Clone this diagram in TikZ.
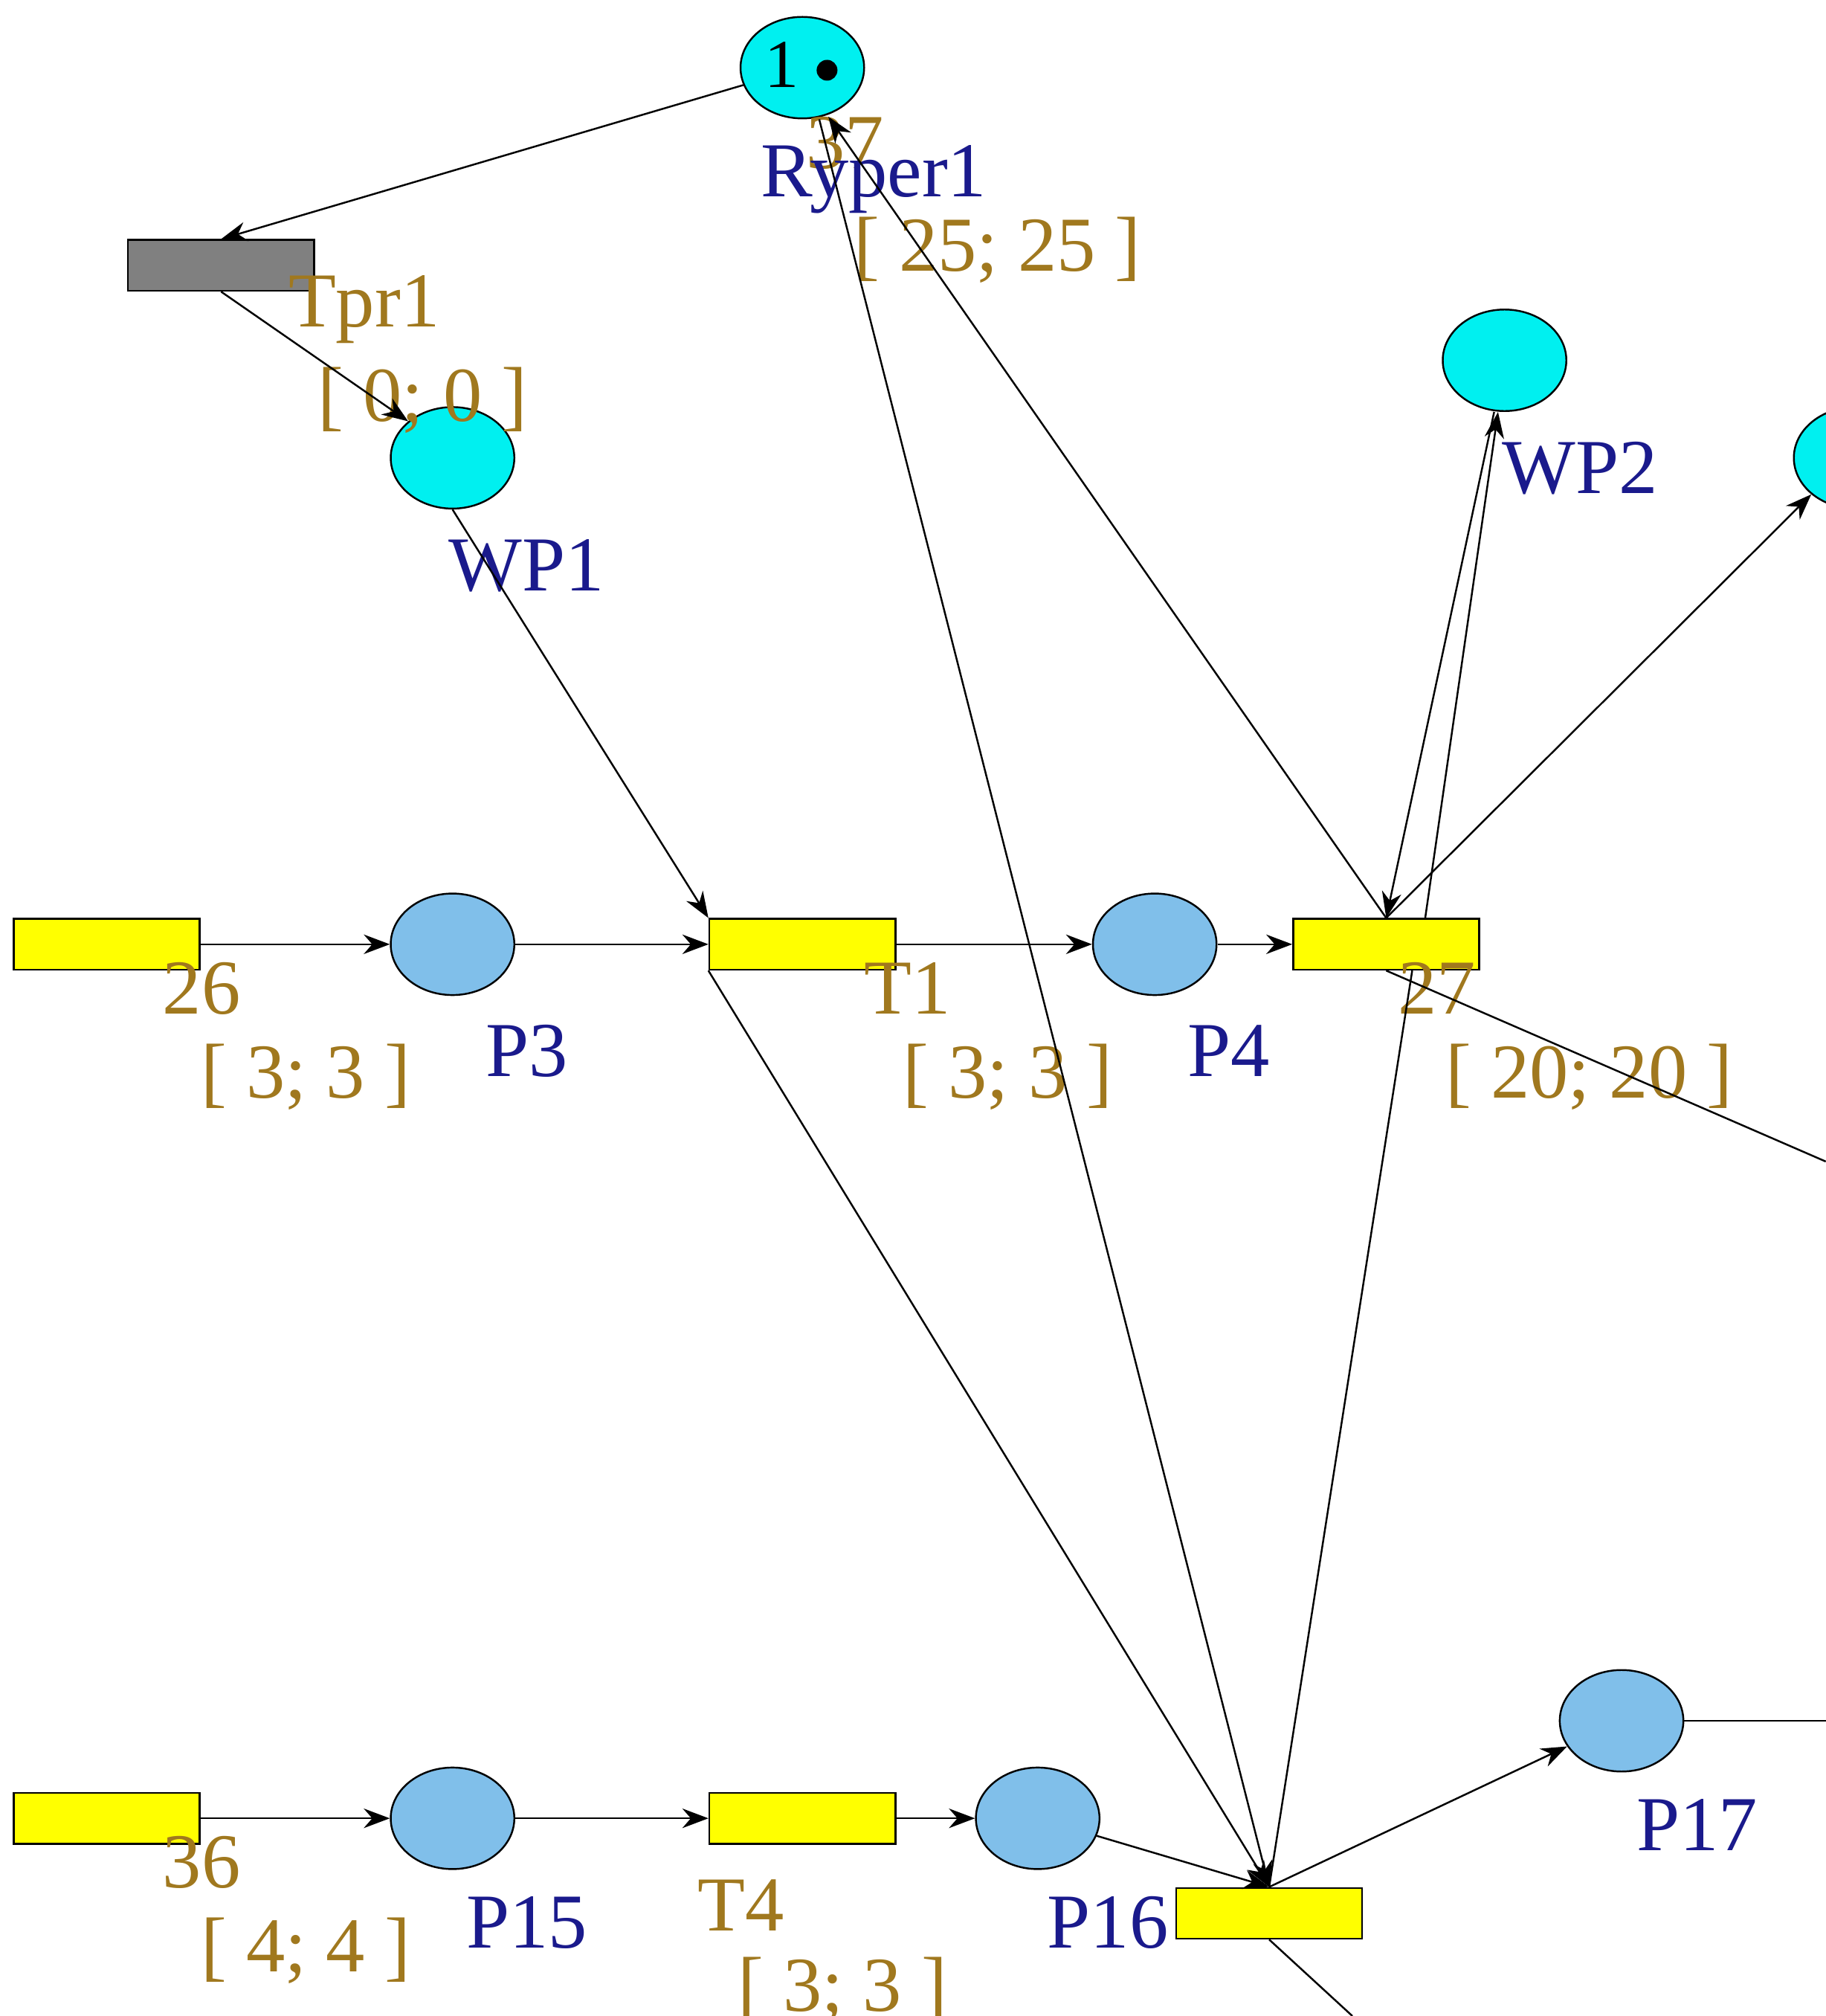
\documentclass[tikz,border=0pt]{standalone}
\usepackage{fontspec}
\setmainfont{Liberation Serif}
\usetikzlibrary{positioning, calc, arrows.meta, shapes}
\definecolor{aqua}{HTML}{00F0F0}
\definecolor{skyplace}{HTML}{80BFEA}
\definecolor{trans}{HTML}{FFFF00}
\definecolor{brownlbl}{HTML}{A0781E}
\definecolor{bluelbl}{HTML}{1A1A8C}

\begin{document}
\begin{tikzpicture}[x=0.01cm, y=-0.01cm]

\tikzset{
place/.style = {ellipse, draw, fill = skyplace, minimum width = 0.95cm,
	minimum height = 0.78cm, inner sep = 0pt},
resource/.style = {place, fill = aqua},
transition/.style = {rectangle, draw, fill = trans, minimum width = 1.43cm,
	minimum height = 0.39cm, inner sep = 0pt},
timing/.style = {text = brownlbl, font = \fontsize{17}{19}\selectfont},
pname/.style = {text = bluelbl, font = \fontsize{17}{19}\selectfont},
arc/.style = {-{Stealth[length = 2mm, width = 1.5mm]}, line width = 0.4pt},
}

\useasboundingbox (0,0) rectangle (1404,1550);

%% Places
\node at (617,52) [resource] (Ryper1) {};
\node at (348,352) [resource] (WP1) {};
\node at (1157,277) [resource] (WP2) {};
\node at (1427,352) [resource] (WP3) {};
\node at (348,726) [place] (P3) {};
\node at (888,726) [place] (P4) {};
\node at (348,1398) [place] (P15) {};
\node at (798,1398) [place] (P16) {};
\node at (1247,1323) [place] (P17) {};

% Marking
\node at (601,50) {\fontsize{15}{18}\selectfont 1};
\fill (636,54) circle (8);

%% Transitions
\node at (170,204) [transition, fill = black!50] (Tpr1) {};
\node at (82,726) [transition] (T26) {};
\node at (617,726) [transition] (T1) {};
\node at (1066,726) [transition] (T27) {};
\node at (82,1398) [transition] (T36) {};
\node at (617,1398) [transition] (T4) {};
\node at (976,1471) [transition] (T37) {};

%% Labels
\node at (650,110) [timing] {37};
\node at (672,138) [pname] {Ryper1};
\node at (767,192) [timing] {[ 25; 25 ]};
\node at (280,238) [timing] {Tpr1};
\node at (325,308) [timing] {[ 0; 0 ]};
\node at (405,435) [pname] {WP1};
\node at (1215,360) [pname] {WP2};
\node at (155,760) [timing] {26};
\node at (235,828) [timing] {[ 3; 3 ]};
\node at (405,808) [pname] {P3};
\node at (698,760) [timing] {T1};
\node at (775,828) [timing] {[ 3; 3 ]};
\node at (945,808) [pname] {P4};
\node at (1105,760) [timing] {27};
\node at (1222,828) [timing] {[ 20; 20 ]};
\node at (155,1432) [timing] {36};
\node at (235,1500) [timing] {[ 4; 4 ]};
\node at (405,1478) [pname] {P15};
\node at (570,1465) [timing] {T4};
\node at (648,1530) [timing] {[ 3; 3 ]};
\node at (852,1478) [pname] {P16};
\node at (1305,1403) [pname] {P17};

%% Free ends
\coordinate (out27) at (1404,893);
\coordinate (out17) at (1404,1323);
\coordinate (out37) at (1040,1550);

%% Arcs
\draw [arc] (Ryper1) -- (Tpr1.north);
\draw [arc] (Tpr1.south) -- (WP1.north west);
\draw [arc] (WP1.south) -- (T1.north west);
\draw [arc] (T26) -- (P3);
\draw [arc] (P3) -- (T1);
\draw [arc] (T1) -- (P4);
\draw [arc] (P4) -- (T27);
\draw [arc] (T27.north) -- ($(Ryper1.south)+(20,-2)$);
\draw [arc] ($(WP2.south)+(-8,0)$) -- (T27.north);
\draw [arc] ($(T27.north)+(30,0)$) -- ($(WP2.south)+(-5,0)$);
\draw [arc] (T27.north) -- (WP3.south west);
\draw (T27.south) -- (out27);
\draw [arc] (T1.south west) -- (T37.north);
\draw [arc] ($(Ryper1.south)+(13,0)$) -- (T37.north);
\draw (T37.north) -- ($(T27.south)+(20,0)$);
\draw [arc] (T36) -- (P15);
\draw [arc] (P15) -- (T4);
\draw [arc] (T4) -- (P16);
\draw [arc] (P16) -- (T37.north);
\draw [arc] (T37.north) -- (P17);
\draw (P17) -- (out17);
\draw (T37.south) -- (out37);

\end{tikzpicture}
\end{document}
